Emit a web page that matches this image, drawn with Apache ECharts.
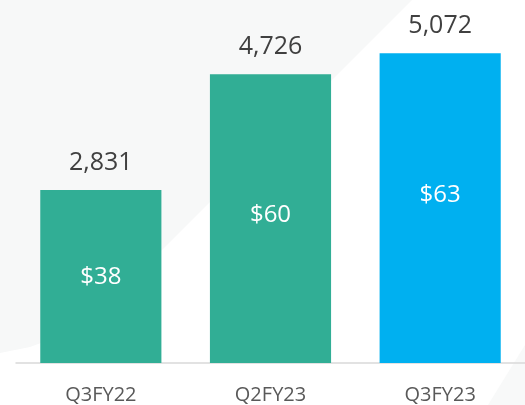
<!DOCTYPE html>
<html>
<head>
<meta charset="utf-8">
<script src="https://cdn.jsdelivr.net/npm/echarts@6/dist/echarts.min.js"></script>
<style>
  html, body { margin: 0; padding: 0; background: #fff; }
  #chart { width: 525px; height: 405px; }
</style>
</head>
<body>
<div id="chart"></div>
<script>
// Data
var quarters = ['Q3FY22', 'Q2FY23', 'Q3FY23'];
var users = [2831, 4726, 5072];
var prices = [38, 60, 63];

// Look of each bar (kept apart from the data)
var barColors = ['#31ae95', '#31ae95', '#00b0f0'];
var priceNudge = [1, -3, -13];

var myChart = echarts.init(document.getElementById('chart'), null, { renderer: 'canvas' });

var option = {
  backgroundColor: '#ffffff',
  animation: false,
  textStyle: { fontFamily: '"Open Sans", sans-serif' },
  // faint background shapes behind the chart
  graphic: [
    {
      type: 'polygon',
      z: -10,
      silent: true,
      shape: { points: [[0, 0], [412, 0], [120, 292], [90, 318], [60, 336], [30, 347], [0, 353]] },
      style: { fill: '#f7f8f8' }
    },
    {
      type: 'polygon',
      z: -10,
      silent: true,
      shape: { points: [[525, 345], [525, 405], [488, 405]] },
      style: { fill: '#f8f9f9' }
    }
  ],
  grid: { left: 16, right: -2, top: 27, bottom: 42 },
  xAxis: {
    type: 'category',
    data: quarters,
    axisLine: { lineStyle: { color: '#d9d9d9', width: 1.5 } },
    axisTick: { show: false },
    axisLabel: { color: '#595959', fontSize: 20, margin: 22 }
  },
  yAxis: {
    type: 'value',
    min: 0,
    max: 5500,
    show: false,
    splitLine: { show: false }
  },
  series: [
    {
      type: 'bar',
      barCategoryGap: '28.6%',
      data: users.map(function (v, i) {
        return { value: v, itemStyle: { color: barColors[i] } };
      }),
      label: {
        show: true,
        position: 'top',
        distance: 15,
        color: '#404040',
        fontSize: 25,
        formatter: function (p) { return p.value.toLocaleString('en-US'); }
      }
    },
    {
      type: 'bar',
      barGap: '-100%',
      barCategoryGap: '28.6%',
      data: users.map(function (v, i) {
        return { value: v, label: { offset: [0, priceNudge[i]] } };
      }),
      itemStyle: { color: 'rgba(0,0,0,0)' },
      label: {
        show: true,
        position: 'inside',
        color: '#ffffff',
        fontSize: 24,
        formatter: function (p) { return '$' + prices[p.dataIndex]; }
      }
    }
  ]
};

myChart.setOption(option);
window.addEventListener('resize', myChart.resize);
</script>
</body>
</html>
